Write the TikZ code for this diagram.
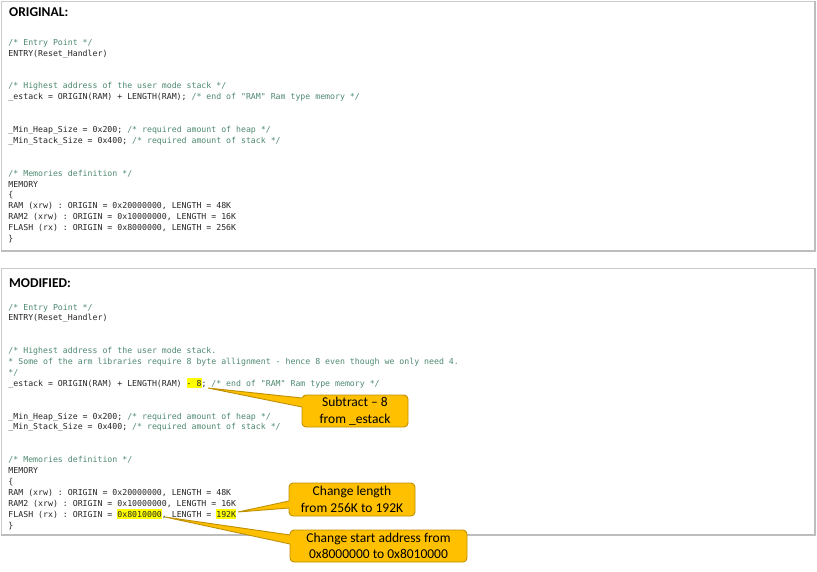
\documentclass[tikz,border=0pt]{standalone}
\usepackage{fontspec}
\setmainfont{Carlito}
\setmonofont{DejaVu Sans Mono}
\usetikzlibrary{calc}
\definecolor{cmgreen}{HTML}{4E8A70}
\definecolor{codeblack}{HTML}{262626}
\definecolor{hlyellow}{HTML}{FFFF00}
\definecolor{cofill}{HTML}{FFC000}
\definecolor{coline}{HTML}{BF8F00}
\definecolor{panelline}{HTML}{CACACA}
\definecolor{panelshadow}{HTML}{BDBDBD}
\newcommand{\cmt}[1]{\textcolor{cmgreen}{#1}}
\newcommand{\hlt}[1]{\setbox0\hbox{#1}\rlap{\color{hlyellow}\rule[-1.6pt]{\wd0}{9.6pt}}\box0}
\tikzset{
  code/.style={anchor=base west, inner sep=0pt, outer sep=0pt, text=codeblack,
    font=\ttfamily\fontsize{8.22}{10.9}\selectfont},
  heading/.style={anchor=base west, inner sep=0pt, font=\bfseries\fontsize{13.5}{16}\selectfont},
  panel/.style={draw=panelline, line width=0.8pt},
  shadowline/.style={draw=panelshadow, line width=1.2pt},
  callout/.style={draw=coline, fill=cofill, line width=0.9pt, rounded corners=4pt,
    inner sep=0pt, outer sep=0pt, align=center,
    font=\fontsize{13.5}{16.5}\selectfont},
  wedgefill/.style={fill=cofill},
  wedgeline/.style={draw=coline, line width=0.9pt, line join=miter},
}
\begin{document}
\begin{tikzpicture}[x=1pt,y=-1pt]
\useasboundingbox (0,0) rectangle (817,571);
\fill[white] (0,0) rectangle (817,571);

% panels
\draw[panel] (1,1) rectangle (814,250);
\draw[shadowline] (815,1) -- (815,251) -- (1,251);
\draw[panel] (1,268) rectangle (814,534);
\draw[shadowline] (815,268) -- (815,535) -- (1,535);

% ORIGINAL
\node[heading] (h1) at (9,16.7) {ORIGINAL:};
\node[code] (o0) at (8.5,45.3) {\cmt{/* Entry Point */}};
\node[code] (o1) at (8.5,56.2) {ENTRY(Reset\_Handler)};
\node[code] (o4) at (8.5,88.9) {\cmt{/* Highest address of the user mode stack */}};
\node[code] (o5) at (8.5,99.8) {\_estack = ORIGIN(RAM) + LENGTH(RAM); \cmt{/* end of "RAM" Ram type memory */}};
\node[code] (o8) at (8.5,132.5) {\_Min\_Heap\_Size = 0x200; \cmt{/* required amount of heap */}};
\node[code] (o9) at (8.5,143.4) {\_Min\_Stack\_Size = 0x400; \cmt{/* required amount of stack */}};
\node[code] (o12) at (8.5,176.1) {\cmt{/* Memories definition */}};
\node[code] (o13) at (8.5,187.0) {MEMORY};
\node[code] (o14) at (8.5,197.9) {\{};
\node[code] (o15) at (8.5,208.8) {RAM (xrw) : ORIGIN = 0x20000000, LENGTH = 48K};
\node[code] (o16) at (8.5,219.7) {RAM2 (xrw) : ORIGIN = 0x10000000, LENGTH = 16K};
\node[code] (o17) at (8.5,230.6) {FLASH (rx) : ORIGIN = 0x8000000, LENGTH = 256K};
\node[code] (o18) at (8.5,241.5) {\}};

% MODIFIED
\node[heading] (h2) at (9,287.7) {MODIFIED:};
\node[code] (m0) at (8.5,310.0) {\cmt{/* Entry Point */}};
\node[code] (m1) at (8.5,320.9) {ENTRY(Reset\_Handler)};
\node[code] (m4) at (8.5,353.6) {\cmt{/* Highest address of the user mode stack.}};
\node[code] (m5) at (8.5,364.5) {\cmt{* Some of the arm libraries require 8 byte allignment - hence 8 even though we only need 4.}};
\node[code] (m6) at (8.5,375.4) {\cmt{*/}};
\node[code] (m7) at (8.5,386.3) {\_estack = ORIGIN(RAM) + LENGTH(RAM) \hlt{- 8}; \cmt{/* end of "RAM" Ram type memory */}};
\node[code] (m10) at (8.5,419.0) {\_Min\_Heap\_Size = 0x200; \cmt{/* required amount of heap */}};
\node[code] (m11) at (8.5,429.9) {\_Min\_Stack\_Size = 0x400; \cmt{/* required amount of stack */}};
\node[code] (m14) at (8.5,462.6) {\cmt{/* Memories definition */}};
\node[code] (m15) at (8.5,473.5) {MEMORY};
\node[code] (m16) at (8.5,484.4) {\{};
\node[code] (m17) at (8.5,495.3) {RAM (xrw) : ORIGIN = 0x20000000, LENGTH = 48K};
\node[code] (m18) at (8.5,506.2) {RAM2 (xrw) : ORIGIN = 0x10000000, LENGTH = 16K};
\node[code] (m19) at (8.5,517.1) {FLASH (rx) : ORIGIN = \hlt{0x8010000}, LENGTH = \hlt{192K}};
\node[code] (m20) at (8.5,528.0) {\}};

% callout tips
\coordinate (t1) at (208,388);
\coordinate (t2) at (238,512);
\coordinate (t3) at (165,517);

% callouts
\node[callout, minimum width=106pt, minimum height=32pt] (c1) at (355,411) {Subtract – 8\\from \_estack};
\node[callout, minimum width=126pt, minimum height=33pt] (c2) at (352,499.5) {Change length\\from 256K to 192K};
\node[callout, minimum width=177pt, minimum height=32pt] (c3) at (378.5,546) {Change start address from\\0x8000000 to 0x8010000};

% wedges
\fill[wedgefill] ([xshift=1.3pt,yshift=13pt]c1.west) -- (t1) -- ([xshift=1.3pt,yshift=4pt]c1.west) -- cycle;
\draw[wedgeline] ([yshift=13pt]c1.west) -- (t1) -- ([yshift=4pt]c1.west);
\fill[wedgefill] ([xshift=1.3pt,yshift=-1.5pt]c2.west) -- (t2) -- ([xshift=1.3pt,yshift=-8.5pt]c2.west) -- cycle;
\draw[wedgeline] ([yshift=-1.5pt]c2.west) -- (t2) -- ([yshift=-8.5pt]c2.west);
\fill[wedgefill] ([xshift=1.3pt,yshift=11pt]c3.west) -- (t3) -- ([xshift=1.3pt,yshift=2pt]c3.west) -- cycle;
\draw[wedgeline] ([yshift=11pt]c3.west) -- (t3) -- ([yshift=2pt]c3.west);
\end{tikzpicture}
\end{document}
